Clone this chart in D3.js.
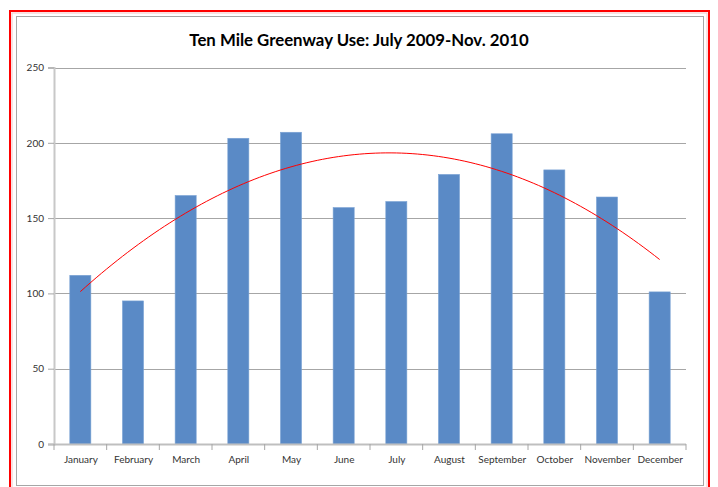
<!DOCTYPE html>
<html>
<head>
<meta charset="utf-8">
<script src="https://cdn.jsdelivr.net/npm/d3@7"></script>
<style>
  body { margin: 0; background: #fff; }
  text { font-family: Lato, "Open Sans", sans-serif; }
</style>
</head>
<body>
<div id="chart"></div>
<script>
// month names and counts
const months = ['January','February','March','April','May','June','July','August','September','October','November','December'];
const uses = [112, 95, 165, 203, 207, 157, 161, 179, 206, 182, 164, 101];
const yTicks = [0, 50, 100, 150, 200, 250];

const W = 718, H = 487;
const svg = d3.select('#chart').append('svg').attr('width', W).attr('height', H);

// outer red frame + chart area border
svg.append('rect').attr('x', 10).attr('y', 11).attr('width', 699).attr('height', 500)
  .attr('fill', 'none').attr('stroke', '#ff0000').attr('stroke-width', 2);
svg.append('rect').attr('x', 12).attr('y', 13).attr('width', 695).attr('height', 500)
  .attr('fill', 'none').attr('stroke', '#f4c6c6').attr('stroke-width', 1);
svg.append('rect').attr('x', 16.5).attr('y', 16.5).attr('width', 687).attr('height', 469)
  .attr('fill', '#fff').attr('stroke', '#a6a6a6').attr('stroke-width', 1);

const mLeft = 54, mRight = 686, mTop = 67.5, mBottom = 444;

const x = d3.scaleBand().domain(months).range([mLeft, mRight]).paddingInner(0.6).paddingOuter(0.3);
const xc = d3.scalePoint().domain(months).range([mLeft, mRight]).padding(0.5);
const y = d3.scaleLinear().domain([0, 250]).range([mBottom, mTop]);

// title
svg.append('text').attr('x', 359).attr('y', 46).attr('text-anchor', 'middle')
  .style('font-size', '16.8px').style('font-weight', 'bold').style('fill', '#000')
  .text('Ten Mile Greenway Use: July 2009-Nov. 2010');

// gridlines
svg.append('g').selectAll('line').data(yTicks.slice(1)).join('line')
  .attr('x1', mLeft).attr('x2', mRight)
  .attr('y1', d => Math.round(y(d)) + 0.5).attr('y2', d => Math.round(y(d)) + 0.5)
  .attr('stroke', '#a6a6a6').attr('stroke-width', 1);

// y axis
const yAxis = svg.append('g').attr('transform', `translate(${mLeft},0)`)
  .call(d3.axisLeft(y).tickValues(yTicks).tickSize(6).tickPadding(4));
yAxis.select('.domain').attr('stroke', '#c8c8c8').attr('stroke-width', 2);
yAxis.selectAll('.tick line').attr('stroke', '#a6a6a6');
yAxis.selectAll('.tick text').style('font-size', '10px').style('fill', '#333')
  .style('font-family', 'Lato, sans-serif');

// bars
svg.append('g').selectAll('rect').data(uses).join('rect')
  .attr('x', (d, i) => x(months[i]))
  .attr('y', d => y(d))
  .attr('width', x.bandwidth())
  .attr('height', d => mBottom - y(d))
  .attr('fill', '#5a8ac6')
  .attr('stroke', '#7aa2d4').attr('stroke-width', 0.6);

// x axis
const xAxis = svg.append('g').attr('transform', `translate(0,${mBottom})`)
  .call(d3.axisBottom(xc).tickSize(0).tickPadding(12));
xAxis.select('.domain').remove();
xAxis.selectAll('.tick text').style('font-size', '10px').style('fill', '#333')
  .style('font-family', 'Lato, sans-serif');
svg.append('line').attr('x1', mLeft - 6).attr('x2', mRight).attr('y1', mBottom + 0.5).attr('y2', mBottom + 0.5)
  .attr('stroke', '#bfbfbf').attr('stroke-width', 2);
const step = (mRight - mLeft) / months.length;
svg.append('g').selectAll('line').data(d3.range(months.length + 1)).join('line')
  .attr('x1', i => mLeft + i * step).attr('x2', i => mLeft + i * step)
  .attr('y1', mBottom).attr('y2', mBottom + 6)
  .attr('stroke', '#a6a6a6');

// polynomial (order 2) trendline, least squares fit on the bars
const n = uses.length;
const ts = uses.map((d, i) => i + 1);
const S = k => d3.sum(ts, t => Math.pow(t, k));
const Sy = k => d3.sum(ts, (t, i) => Math.pow(t, k) * uses[i]);
const M = [[n, S(1), S(2)], [S(1), S(2), S(3)], [S(2), S(3), S(4)]];
const B = [Sy(0), Sy(1), Sy(2)];
function solve3(A, b) {
  const a = A.map((r, i) => r.concat([b[i]]));
  for (let c = 0; c < 3; c++) {
    for (let r = c + 1; r < 3; r++) {
      const f = a[r][c] / a[c][c];
      for (let k = c; k < 4; k++) a[r][k] -= f * a[c][k];
    }
  }
  const s = [0, 0, 0];
  for (let r = 2; r >= 0; r--) {
    let v = a[r][3];
    for (let k = r + 1; k < 3; k++) v -= a[r][k] * s[k];
    s[r] = v / a[r][r];
  }
  return s;
}
const coef = solve3(M, B);
const tx = d3.scaleLinear().domain([1, n]).range([xc(months[0]), xc(months[n - 1])]);
const trend = d3.range(1, n + 0.001, 0.1).map(t => [tx(t), y(coef[0] + coef[1] * t + coef[2] * t * t)]);
svg.append('path').datum(trend)
  .attr('d', d3.line())
  .attr('fill', 'none').attr('stroke', '#ff0000').attr('stroke-width', 1);
</script>
</body>
</html>
